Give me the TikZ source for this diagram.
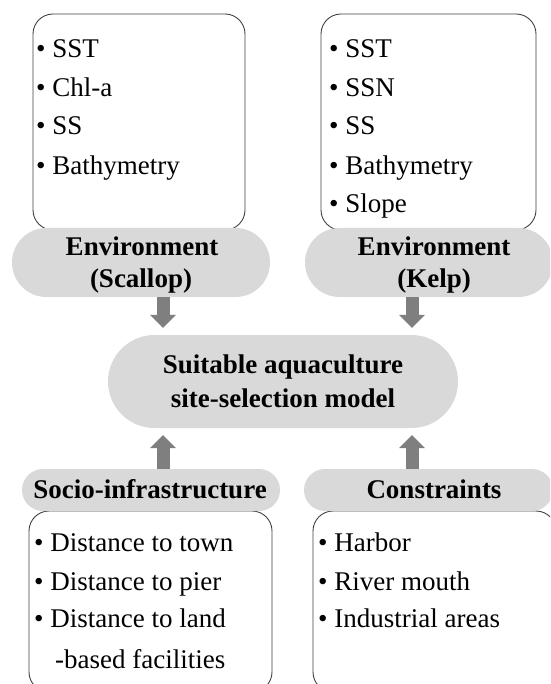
\documentclass[tikz,border=0pt]{standalone}
\usepackage{fontspec}
\setmainfont{Liberation Serif}
\usetikzlibrary{arrows.meta}
\definecolor{pillgray}{HTML}{D9D9D9}
\definecolor{arrowgray}{HTML}{7F7F7F}
\definecolor{boxline}{HTML}{404040}
\tikzset{
  listbox/.style={draw=boxline, line width=0.9pt, fill=white, rounded corners=20pt, inner sep=0pt},
  pill/.style={fill=pillgray, draw=none, inner sep=0pt},
  itemtxt/.style={anchor=base west, inner sep=0pt, font=\fontsize{27}{32}\selectfont},
  headtxt/.style={anchor=base, inner sep=0pt, font=\fontsize{27}{32}\selectfont\bfseries},
  bigarrow/.style={draw=arrowgray, line width=13pt, -{Triangle[length=13pt,width=26pt,line width=0pt]}, shorten >=7pt}
}
\begin{document}
\begin{tikzpicture}[x=1pt,y=-1pt]
\useasboundingbox (0,0) rectangle (550,684);
\clip (0,0) rectangle (550,684);
% list boxes
\node[listbox, minimum width=212pt, minimum height=216pt] (boxS) at (139,122) {};
\node[listbox, minimum width=215pt, minimum height=216pt] (boxK) at (428.5,122) {};
\node[listbox, minimum width=243pt, minimum height=181pt] (boxI) at (150.5,601.5) {};
\node[listbox, minimum width=243pt, minimum height=181pt] (boxC) at (434.5,601.5) {};
% pills
\node[pill, minimum width=258pt, minimum height=69pt, rounded corners=34.5pt] (envS) at (141,262.5) {};
\node[pill, minimum width=248pt, minimum height=69pt, rounded corners=34.5pt] (envK) at (429,262.5) {};
\node[pill, minimum width=350pt, minimum height=93pt, rounded corners=46.5pt] (model) at (283,381.5) {};
\node[pill, minimum width=258pt, minimum height=42pt, rounded corners=21pt] (socio) at (151,490) {};
\node[pill, minimum width=249pt, minimum height=42pt, rounded corners=21pt] (cons) at (428.5,490) {};
% headings
\node[headtxt] (hS1) at (142,255) {Environment};
\node[headtxt] (hS2) at (141,287) {(Scallop)};
\node[headtxt] (hK1) at (434,255) {Environment};
\node[headtxt] (hK2) at (434,287) {(Kelp)};
\node[headtxt] (hM1) at (283,373) {Suitable aquaculture};
\node[headtxt] (hM2) at (283,407) {site-selection model};
\node[headtxt] (hI) at (150,498) {Socio-infrastructure};
\node[headtxt] (hC) at (434,498) {Constraints};
% lists
\node[itemtxt] (s1) at (36,58) {• SST};
\node[itemtxt] (s2) at (36,97) {• Chl-a};
\node[itemtxt] (s3) at (36,135) {• SS};
\node[itemtxt] (s4) at (36,175) {• Bathymetry};
\node[itemtxt] (k1) at (329,58) {• SST};
\node[itemtxt] (k2) at (329,97) {• SSN};
\node[itemtxt] (k3) at (329,135) {• SS};
\node[itemtxt] (k4) at (329,175) {• Bathymetry};
\node[itemtxt] (k5) at (329,213) {• Slope};
\node[itemtxt] (i1) at (34,551) {• Distance to town};
\node[itemtxt] (i2) at (34,590) {• Distance to pier};
\node[itemtxt] (i3) at (34,627) {• Distance to land};
\node[itemtxt] (i4) at (55,668) {-based facilities};
\node[itemtxt] (c1) at (318,551) {• Harbor};
\node[itemtxt] (c2) at (318,590) {• River mouth};
\node[itemtxt] (c3) at (318,627) {• Industrial areas};
% arrows
\coordinate (ax1) at (163,0);
\coordinate (ax2) at (412,0);
\draw[bigarrow] (envS.south -| ax1) -- (model.north -| ax1);
\draw[bigarrow] (envK.south -| ax2) -- (model.north -| ax2);
\draw[bigarrow] (socio.north -| ax1) -- (model.south -| ax1);
\draw[bigarrow] (cons.north -| ax2) -- (model.south -| ax2);
\end{tikzpicture}
\end{document}
